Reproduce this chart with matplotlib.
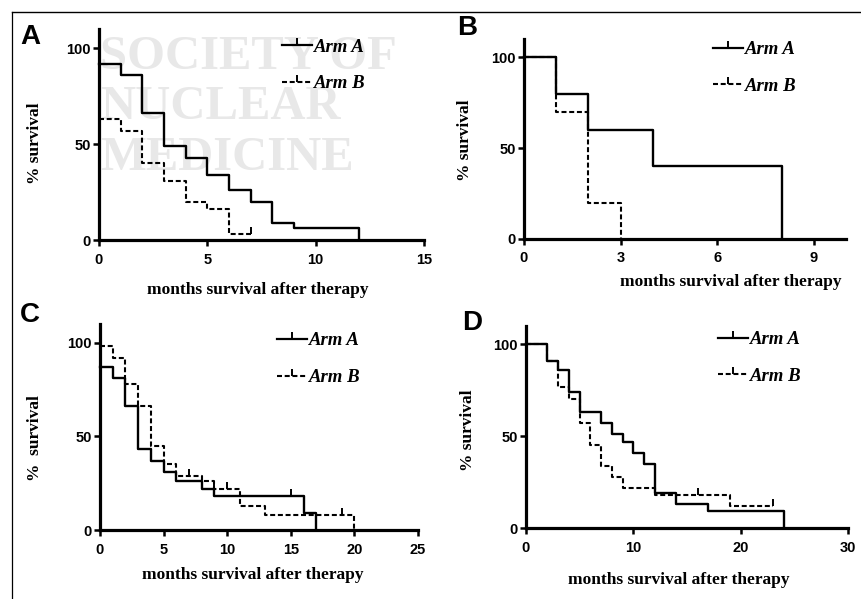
"""
Kaplan-Meier survival curves, four panels (A-D), Arm A vs Arm B.
"""
import matplotlib
matplotlib.use("Agg")
import matplotlib.pyplot as plt
from matplotlib.lines import Line2D
from matplotlib.path import Path

# ---- data (months, % survival) ----
a_arm_a_t = [0, 1, 2, 3, 4, 5, 6, 7, 8, 9, 12]
a_arm_a_s = [92, 86, 66, 49, 43, 34, 26, 20, 9, 6, 0]
a_arm_b_t = [0, 1, 2, 3, 4, 5, 6, 7]
a_arm_b_s = [63, 57, 40, 31, 20, 16, 3, 3]
a_cens_a_t, a_cens_a_s = [], []
a_cens_b_t, a_cens_b_s = [7], [3]

b_arm_a_t = [0, 1, 2, 4, 8]
b_arm_a_s = [100, 80, 60, 40, 0]
b_arm_b_t = [0, 1, 2, 3]
b_arm_b_s = [100, 70, 20, 0]
b_cens_a_t, b_cens_a_s = [], []
b_cens_b_t, b_cens_b_s = [], []

c_arm_a_t = [0, 1, 2, 3, 4, 5, 6, 8, 9, 16, 17]
c_arm_a_s = [87, 81, 66, 43, 37, 31, 26, 22, 18, 9, 0]
c_arm_b_t = [0, 1, 2, 3, 4, 5, 6, 8, 9, 11, 13, 20]
c_arm_b_s = [98, 92, 78, 66, 45, 35, 29, 26, 22, 13, 8, 0]
c_cens_a_t, c_cens_a_s = [15], [18]
c_cens_b_t, c_cens_b_s = [7, 9, 10, 19], [29, 22, 22, 8]

d_arm_a_t = [0, 2, 3, 4, 5, 7, 8, 9, 10, 11, 12, 14, 17, 24]
d_arm_a_s = [100, 91, 86, 74, 63, 57, 51, 47, 41, 35, 19, 13, 9, 0]
d_arm_b_t = [0, 2, 3, 4, 5, 6, 7, 8, 9, 12, 19, 23]
d_arm_b_s = [100, 91, 77, 70, 57, 45, 34, 28, 22, 18, 12, 12]
d_cens_a_t, d_cens_a_s = [], []
d_cens_b_t, d_cens_b_s = [16, 23], [18, 12]

panel_letters = ["A", "B", "C", "D"]
x_limits = [15, 10, 25, 30]
x_ticks = [[0, 5, 10, 15], [0, 3, 6, 9], [0, 5, 10, 15, 20, 25], [0, 10, 20, 30]]
y_ticks = [0, 50, 100]
y_labels = ["% survival", "% survival", "%  survival", "% survival"]
x_label = "months survival after therapy"
arm_names = ["Arm A", "Arm B"]
watermark = ["SOCIETY OF", "NUCLEAR", "MEDICINE"]

W, H = 862, 599
SERIF = "Liberation Serif"
SANS = "Liberation Sans"

# upward censor tick (path from 0 to 1 -> drawn above the point only)
tick = Path([(0, 0), (0, 1)], [Path.MOVETO, Path.LINETO])
DASH = (0, (2.4, 1.3))


def rect(l, r, t, b):
    return [l / W, 1 - b / H, (r - l) / W, (b - t) / H]


fig = plt.figure(figsize=(W / 100, H / 100), dpi=100)

# faint watermark behind the panels
for txt, base in zip(watermark, [69, 119, 170]):
    fig.text(100 / W, 1 - base / H, txt, family=SERIF, fontsize=35, fontweight="bold",
             color="#e8e8e8", ha="left", va="baseline", zorder=-5)

# page frame (top and left edges only are visible)
fig.add_artist(Line2D([12 / W, 1], [1 - 12 / H, 1 - 12 / H], color="k", lw=1.0))
fig.add_artist(Line2D([12 / W, 12 / W], [1 - 12 / H, 0], color="k", lw=0.9))

panels = [
    dict(box=(99, 424, 29, 240), a=(a_arm_a_t, a_arm_a_s), b=(a_arm_b_t, a_arm_b_s),
         ca=(a_cens_a_t, a_cens_a_s), cb=(a_cens_b_t, a_cens_b_s),
         letter=(20, 44), leg=(0.563, 0.955), ylab=(-0.172, 0.46), xlab=(0.49, -0.20)),
    dict(box=(524, 846, 39, 239), a=(b_arm_a_t, b_arm_a_s), b=(b_arm_b_t, b_arm_b_s),
         ca=(b_cens_a_t, b_cens_a_s), cb=(b_cens_b_t, b_cens_b_s),
         letter=(457, 35), leg=(0.587, 0.99), ylab=(-0.159, 0.495), xlab=(0.643, -0.175)),
    dict(box=(100, 418, 324, 530), a=(c_arm_a_t, c_arm_a_s), b=(c_arm_b_t, c_arm_b_s),
         ca=(c_cens_a_t, c_cens_a_s), cb=(c_cens_b_t, c_cens_b_s),
         letter=(20, 322), leg=(0.557, 0.96), ylab=(-0.179, 0.447), xlab=(0.48, -0.18)),
    dict(box=(526, 848, 326, 528), a=(d_arm_a_t, d_arm_a_s), b=(d_arm_b_t, d_arm_b_s),
         ca=(d_cens_a_t, d_cens_a_s), cb=(d_cens_b_t, d_cens_b_s),
         letter=(462, 330), leg=(0.596, 0.975), ylab=(-0.155, 0.485), xlab=(0.475, -0.22)),
]

for i, p in enumerate(panels):
    ax = fig.add_axes(rect(*p["box"]))
    ax.patch.set_visible(False)

    ax.step(*p["a"], where="post", color="k", lw=1.7, clip_on=False, zorder=3)
    ax.step(*p["b"], where="post", color="k", lw=1.5, ls=DASH, clip_on=False, zorder=3)
    ax.plot(*p["ca"], ls="none", marker=tick, ms=10, mec="k", mew=1.4, clip_on=False)
    ax.plot(*p["cb"], ls="none", marker=tick, ms=10, mec="k", mew=1.4, clip_on=False)

    ax.set_xlim(0, x_limits[i])
    ax.set_ylim(0, 110)
    ax.set_xticks(x_ticks[i])
    ax.set_yticks(y_ticks)
    for s in ("top", "right"):
        ax.spines[s].set_visible(False)
    for s in ("left", "bottom"):
        ax.spines[s].set_linewidth(2.3)
    ax.tick_params(direction="out", length=4, width=1.8)
    ax.tick_params(axis="x", pad=5)
    ax.tick_params(axis="y", pad=2)
    for lab in ax.get_xticklabels() + ax.get_yticklabels():
        lab.set_family(SANS)
        lab.set_fontweight("bold")
        lab.set_fontsize(10.5)

    ax.set_ylabel(y_labels[i], family=SERIF, fontweight="bold", fontsize=12.5)
    ax.yaxis.set_label_coords(*p["ylab"])
    ax.set_xlabel(x_label, family=SERIF, fontweight="bold", fontsize=12.5)
    ax.xaxis.set_label_coords(*p["xlab"])

    handles = [
        Line2D([], [], color="k", lw=1.6, marker=tick, ms=10, mec="k", mew=1.4),
        Line2D([], [], color="k", lw=1.5, ls=DASH, marker=tick, ms=10, mec="k", mew=1.4),
    ]
    ax.legend(handles, arm_names, loc="upper left", bbox_to_anchor=p["leg"],
              frameon=False, numpoints=1, handlelength=1.6, handletextpad=0.1,
              labelspacing=1.05, borderpad=0, borderaxespad=0,
              prop=dict(family=SERIF, weight="bold", style="italic", size=13.5))

    lx, ly = p["letter"]
    fig.text(lx / W, 1 - ly / H, panel_letters[i], family=SANS, fontweight="bold",
             fontsize=20, ha="left", va="baseline")

fig.savefig("out.png", dpi=100)
